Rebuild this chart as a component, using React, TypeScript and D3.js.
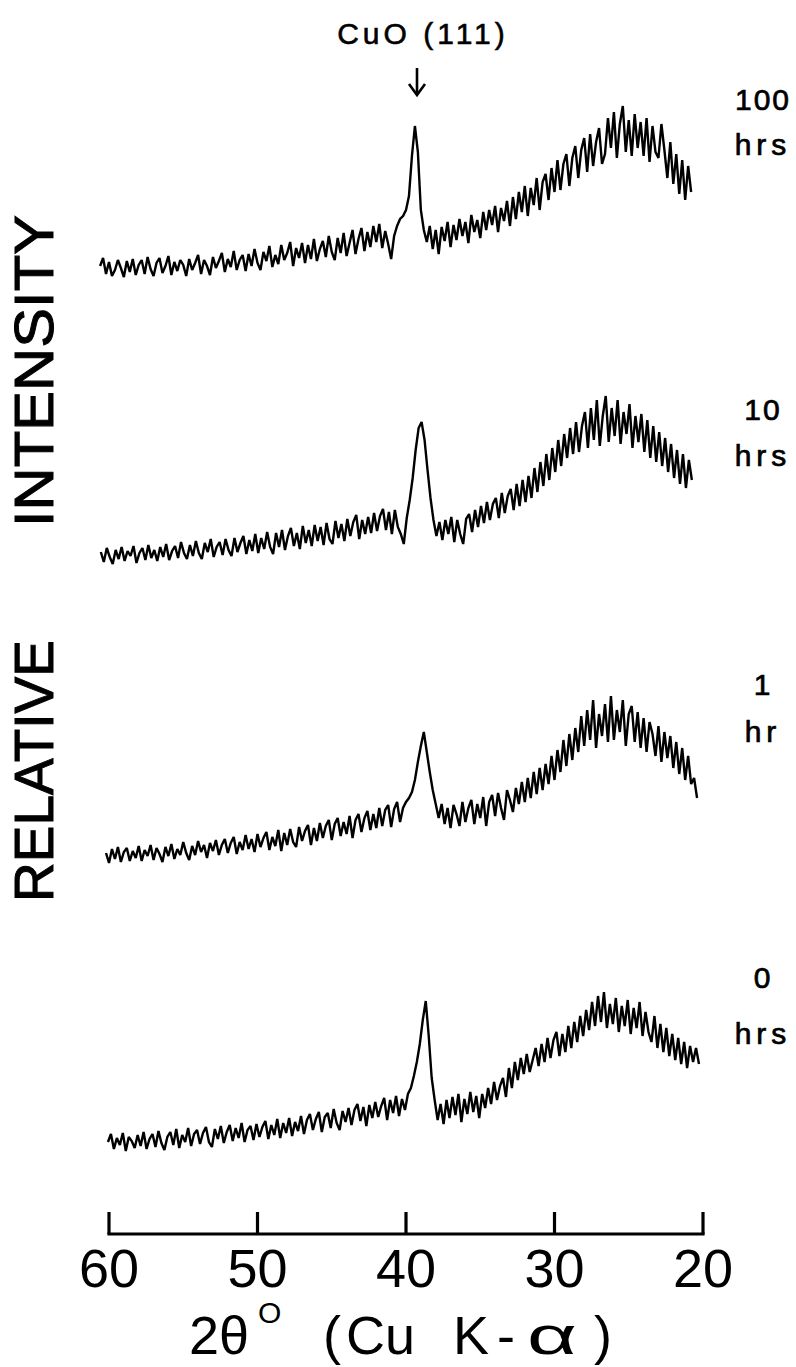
import React from "react";
import * as d3 from "d3";

// 2θ tick values on the bottom scale (degrees)
const TWO_THETA_TICKS = [60, 50, 40, 30, 20];

// Annealing times, top trace first
const TIME_VALUES = ["100", "10", "1", "0"];
const TIME_UNITS = ["hrs", "hrs", "hr", "hrs"];

// Each scan is sampled every 0.2° starting at its own 2θ
const STEP_DEG = 0.2;
const SCAN_START = [60.6, 60.55, 60.2, 60.07];
// Vertical stacking offset of each scan (counts)
const SCAN_OFFSET = [960, 674, 374, 86];

// Relative intensity (counts above scan baseline), 200 samples per scan
const I_100H = [
  8, 16, 0, 12, -2, 4, 14, 6, -3, 13,
  2, 15, -1, 9, 14, 0, 17, 5, -2, 11,
  16, 1, 8, 18, -1, 12, 3, 14, 9, -2,
  15, 4, 11, 19, 0, 14, 8, -1, 17, 6,
  13, 21, 2, 15, 7, 23, 4, 14, 19, 3,
  20, 8, 25, 11, 4, 22, 13, 28, 7, 19,
  10, 29, 14, 21, 32, 8, 26, 16, 31, 11,
  29, 15, 35, 13, 25, 33, 17, 38, 22, 14,
  36, 21, 41, 18, 31, 44, 20, 35, 46, 23,
  42, 27, 48, 32, 50, 26, 43, 30, 15, 38,
  48, 55, 58, 64, 78, 118, 148, 122, 64, 44,
  32, 48, 25, 44, 20, 47, 33, 52, 27, 49,
  34, 55, 38, 52, 31, 59, 42, 54, 36, 62,
  44, 64, 49, 68, 42, 66, 53, 73, 48, 77,
  55, 82, 62, 88, 58, 86, 69, 96, 64, 92,
  100, 74, 106, 82, 114, 84, 110, 120, 88, 116,
  128, 96, 124, 136, 102, 140, 108, 132, 146, 110,
  120, 156, 126, 162, 116, 150, 168, 122, 154, 118,
  160, 126, 152, 118, 156, 112, 148, 122, 116, 150,
  124, 96, 132, 90, 120, 80, 114, 74, 108, 82,
];

const I_10H = [
  8, -2, 12, 3, -4, 10, 1, 13, -1, 9,
  4, 14, -3, 7, 12, 0, 15, 2, 10, -1,
  13, 3, 16, 0, 9, 14, 2, 18, 7, 1,
  15, 4, 19, 7, 1, 17, 8, 21, 3, 13,
  18, 5, 21, 10, 4, 22, 8, 17, 24, 6,
  20, 9, 26, 7, 22, 11, 28, 13, 6, 27,
  13, 30, 10, 24, 32, 14, 27, 11, 34, 17,
  30, 14, 35, 19, 33, 15, 37, 21, 16, 39,
  22, 36, 19, 41, 24, 38, 45, 21, 40, 26,
  43, 27, 47, 29, 44, 51, 30, 48, 26, 50,
  33, 26, 16, 42, 60, 82, 110, 132, 138, 120,
  90, 62, 40, 24, 38, 20, 40, 26, 43, 18,
  40, 26, 16, 41, 46, 28, 50, 33, 54, 37,
  58, 40, 56, 62, 42, 67, 47, 64, 71, 50,
  76, 54, 80, 58, 84, 62, 92, 68, 98, 74,
  106, 80, 112, 88, 120, 94, 126, 102, 132, 106,
  138, 108, 134, 148, 112, 152, 120, 160, 114, 144,
  164, 118, 152, 124, 160, 116, 148, 126, 156, 112,
  144, 118, 146, 108, 140, 102, 134, 98, 128, 94,
  122, 88, 116, 82, 110, 76, 106, 72, 100, 80,
];

const I_1H = [
  7, -3, 11, 1, 13, -2, 8, 12, -1, 9,
  2, 14, -1, 10, 4, 15, 0, 12, 6, -2,
  13, 4, 16, 1, 11, 5, 18, 7, 0, 14,
  5, 19, 8, 15, 2, 17, 9, 20, 5, 15,
  21, 7, 17, 23, 6, 18, 10, 25, 11, 21,
  8, 26, 13, 22, 28, 10, 23, 14, 30, 9,
  27, 15, 31, 18, 13, 33, 19, 29, 35, 15,
  32, 19, 37, 22, 34, 40, 20, 36, 42, 24,
  38, 26, 44, 22, 40, 46, 28, 42, 49, 30,
  46, 32, 52, 34, 50, 55, 33, 51, 58, 38,
  52, 58, 62, 68, 80, 98, 114, 128, 108, 88,
  70, 56, 42, 56, 36, 52, 32, 55, 46, 34,
  58, 38, 52, 60, 36, 56, 42, 63, 34, 58,
  65, 44, 67, 52, 40, 70, 60, 48, 72, 56,
  78, 58, 82, 62, 88, 66, 92, 70, 96, 76,
  104, 80, 110, 88, 120, 94, 126, 100, 132, 108,
  144, 114, 150, 120, 160, 112, 146, 124, 156, 118,
  164, 120, 150, 128, 160, 114, 146, 154, 118, 148,
  112, 142, 108, 138, 126, 104, 134, 98, 128, 102,
  124, 92, 118, 86, 112, 80, 104, 76, 82, 62,
];

const I_0H = [
  6, 14, -1, 10, 3, 15, -3, 11, 7, 0,
  13, 2, 16, -1, 9, 14, 1, 17, 5, -2,
  11, 16, 3, 19, 0, 13, 6, 20, 2, 14,
  18, 4, 15, 21, 6, 1, 19, 9, 22, 5,
  16, 23, 7, 20, 10, 25, 6, 18, 22, 8,
  24, 11, 21, 27, 9, 23, 13, 29, 10, 25,
  15, 30, 12, 26, 17, 32, 14, 28, 34, 18,
  29, 36, 16, 31, 35, 20, 39, 25, 18, 37,
  26, 40, 23, 38, 44, 27, 41, 22, 43, 30,
  46, 31, 42, 50, 28, 48, 35, 52, 32, 49,
  38, 54, 60, 72, 86, 104, 128, 147, 112, 70,
  48, 28, 44, 24, 48, 30, 51, 33, 54, 26,
  49, 34, 56, 36, 52, 30, 54, 40, 60, 44,
  66, 48, 62, 70, 51, 80, 60, 86, 68, 90,
  74, 94, 76, 88, 100, 82, 104, 86, 110, 90,
  108, 116, 92, 114, 96, 122, 100, 126, 106, 132,
  112, 138, 118, 146, 122, 152, 126, 156, 120, 144,
  124, 150, 116, 142, 122, 148, 114, 140, 120, 146,
  112, 136, 116, 106, 132, 100, 124, 96, 120, 92,
  114, 88, 110, 84, 106, 80, 102, 86, 100, 84,
];

const SCANS = [I_100H, I_10H, I_1H, I_0H];

const W = 796;
const H = 1367;
const FONT = "'Liberation Sans', Arial, Helvetica, sans-serif";

export default function App() {
  const x = d3.scaleLinear().domain([60, 20]).range([109, 703]);
  const y = d3.scaleLinear().domain([0, 1000]).range([1234, 234]);

  const line = d3
    .line<{ t: number; v: number }>()
    .x((d) => x(d.t))
    .y((d) => y(d.v));

  const axisY = y(0);
  const tickLen = 22;

  const labelPos = [
    { num: 110, unit: 155 },
    { num: 420, unit: 466 },
    { num: 695, unit: 742 },
    { num: 988, unit: 1044 },
  ];

  return (
    <svg
      width={W}
      height={H}
      viewBox={`0 0 ${W} ${H}`}
      style={{ position: "absolute", left: 0, top: 0, background: "#fff" }}
    >
      <rect x={0} y={0} width={W} height={H} fill="#fff" />

      {/* diffraction scans */}
      {SCANS.map((vals, k) => {
        const pts = vals.map((v, i) => ({
          t: SCAN_START[k] - STEP_DEG * i,
          v: v + SCAN_OFFSET[k],
        }));
        return (
          <path
            key={k}
            d={line(pts) || ""}
            fill="none"
            stroke="#000"
            strokeWidth={2.4}
            strokeLinejoin="miter"
            strokeMiterlimit={2}
          />
        );
      })}

      {/* bottom 2θ scale */}
      <line
        x1={x(60)}
        x2={x(20)}
        y1={axisY}
        y2={axisY}
        stroke="#000"
        strokeWidth={3.2}
        strokeLinecap="square"
      />
      {TWO_THETA_TICKS.map((t) => (
        <g key={t}>
          <line
            x1={x(t)}
            x2={x(t)}
            y1={axisY}
            y2={axisY - tickLen}
            stroke="#000"
            strokeWidth={3.2}
          />
          <text
            x={x(t)}
            y={axisY + 53}
            textAnchor="middle"
            fontFamily={FONT}
            fontSize={54}
            fill="#000"
          >
            {t}
          </text>
        </g>
      ))}

      {/* axis title: 2θ° (Cu K-α) */}
      <text fontFamily={FONT} fontSize={54} fill="#000" y={1354}>
        <tspan x={189}>2θ</tspan>
        <tspan x={323}>(</tspan>
        <tspan x={346}>Cu</tspan>
        <tspan x={453}>K</tspan>
        <tspan x={497}>-</tspan>
        <tspan x={594}>)</tspan>
      </text>
      <text
        transform="translate(527,1354) scale(1.6,1)"
        fontFamily={FONT}
        fontSize={54}
        fill="#000"
      >
        α
      </text>
      <text x={258} y={1323} fontFamily={FONT} fontSize={30} fill="#000">
        O
      </text>

      {/* vertical axis title */}
      <text
        transform="translate(53,527) rotate(-90)"
        fontFamily={FONT}
        fontSize={56}
        fill="#000"
        stroke="#000"
        strokeWidth={1}
        textLength={312}
        lengthAdjust="spacingAndGlyphs"
      >
        INTENSITY
      </text>
      <text
        transform="translate(53,902) rotate(-90)"
        fontFamily={FONT}
        fontSize={56}
        fill="#000"
        stroke="#000"
        strokeWidth={1}
        textLength={262}
        lengthAdjust="spacingAndGlyphs"
      >
        RELATIVE
      </text>

      {/* CuO (111) marker */}
      <text
        x={423}
        y={44}
        textAnchor="middle"
        fontFamily={FONT}
        fontSize={30}
        fill="#000"
        stroke="#000"
        strokeWidth={0.6}
        letterSpacing={4}
      >
        CuO (111)
      </text>
      <line x1={417} x2={417} y1={68} y2={95} stroke="#000" strokeWidth={2.6} />
      <path
        d="M409,84 L417,95 L425,84"
        fill="none"
        stroke="#000"
        strokeWidth={2.6}
      />

      {/* annealing time labels */}
      {TIME_VALUES.map((v, k) => (
        <g key={v}>
          <text
            x={763}
            y={labelPos[k].num}
            textAnchor="middle"
            fontFamily={FONT}
            fontSize={30}
            fill="#000"
            stroke="#000"
            strokeWidth={0.7}
            letterSpacing={2}
          >
            {v}
          </text>
          <text
            x={763}
            y={labelPos[k].unit}
            textAnchor="middle"
            fontFamily={FONT}
            fontSize={30}
            fill="#000"
            stroke="#000"
            strokeWidth={0.7}
            letterSpacing={5}
          >
            {TIME_UNITS[k]}
          </text>
        </g>
      ))}
    </svg>
  );
}
